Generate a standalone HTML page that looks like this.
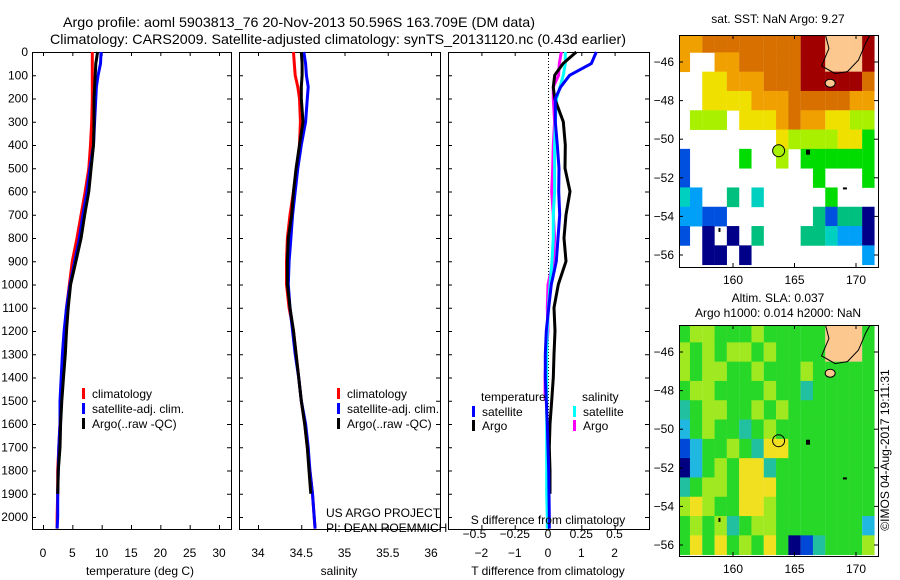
<!DOCTYPE html>
<html><head><meta charset="utf-8"><style>
html,body{margin:0;padding:0;background:#fff}
svg{display:block}
text{font-family:"Liberation Sans",sans-serif;fill:#000}
</style></head><body>
<svg id="c" width="900" height="580" viewBox="0 0 900 580" xmlns="http://www.w3.org/2000/svg">
<text x="63" y="27" font-size="14" textLength="472" lengthAdjust="spacingAndGlyphs">Argo profile: aoml 5903813_76 20-Nov-2013 50.596S 163.709E (DM data)</text>
<text x="50" y="44" font-size="14" textLength="576" lengthAdjust="spacingAndGlyphs">Climatology: CARS2009. Satellite-adjusted climatology: synTS_20131120.nc (0.43d earlier)</text>
<g id="g"></g>
</svg>
<script>
// ---------- data ----------
const depths = [0,50,100,150,200,300,400,500,600,700,800,900,1000,1100,1200,1300,1400,1500,1600,1700,1800,1900,2000,2050];
const tempClim = [8.4,8.4,8.4,8.4,8.4,8.3,8.1,7.8,7.2,6.5,5.8,5.0,4.5,4.0,3.7,3.4,3.2,3.0,2.9,2.7,2.5,2.5,2.4,2.4];
const tempSat  = [9.9,9.8,9.4,9.1,9.0,8.8,8.6,8.0,7.5,6.8,6.2,5.4,4.6,4.0,3.6,3.3,3.1,2.9,2.9,2.7,2.6,2.5,2.5,2.4];
const tempArgo = [9.3,9.0,8.9,8.8,8.7,8.7,8.6,8.2,7.8,7.1,6.5,5.6,4.7,4.3,4.0,3.8,3.5,3.2,3.0,2.9,2.6,2.5,null,null];
const salClim = [34.41,34.42,34.43,34.46,34.48,34.49,34.48,34.45,34.41,34.37,34.34,34.33,34.33,34.36,34.41,34.44,34.47,34.50,34.54,34.57,34.60,34.63,34.65,34.66];
const salSat  = [34.53,34.55,34.56,34.58,34.57,34.55,34.50,34.46,34.43,34.40,34.38,34.36,34.35,34.37,34.40,34.43,34.47,34.50,34.55,34.58,34.60,34.63,34.65,34.66];
const salArgo = [34.50,34.51,34.51,34.50,34.50,34.52,34.48,34.44,34.41,34.39,34.35,34.34,34.34,34.37,34.41,34.44,34.47,34.50,34.54,34.57,34.59,34.61,null,null];
const dTSat  = [1.45,1.3,0.65,0.38,0.22,0.22,0.28,0.33,0.32,0.35,0.3,0.25,0.1,0.02,-0.05,-0.08,-0.08,-0.05,-0.02,0,0.02,0.03,0.04,0.04];
const dTArgo = [0.85,0.45,0.2,0.16,0.2,0.46,0.52,0.51,0.66,0.54,0.48,0.54,0.31,0.18,0.21,0.18,0.16,0.11,0.06,0.04,0.06,0.06,null,null];
const dSSat  = [0.13,0.13,0.115,0.09,0.065,0.055,0.05,0.05,0.05,0.04,0.04,0.03,0.015,0.003,-0.005,-0.01,-0.01,-0.01,-0.01,-0.01,-0.01,-0.01,-0.005,-0.005];
const dSArgo = [0.1,0.085,0.08,0.04,0.04,0.05,0.04,0.035,0.028,0.04,0.05,0.04,0.0,-0.005,0.0,-0.015,-0.022,-0.022,null,null,null,null,null,null];
const depthTicks = [0,100,200,300,400,500,600,700,800,900,1000,1100,1200,1300,1400,1500,1600,1700,1800,1900,2000];
const tempTicks = [0,5,10,15,20,25,30];
const salTicks = [34,34.5,35,35.5,36];
const salTickLabels = ["34","34.5","35","35.5","36"];
const dTTicks = [-2,-1,0,1,2];
const dSTicks = [-0.5,-0.25,0,0.25,0.5];
const dSTickLabels = ["\u22120.5","\u22120.25","0","0.25","0.5"];
const latTicks = [-46,-48,-50,-52,-54,-56];
const lonTicks = [160,165,170];
const gridLats = [-45,-46,-47,-48,-49,-50,-51,-52,-53,-54,-55,-56];
const gridLons = [156,157,158,159,160,161,162,163,164,165,166,167,168,169,170,171];
const sstRows = [
"8899999999aaLLLa",
"8..8899999aaLLLa",
"..77888999aaaaa9",
"..77778889999988",
".666.77789887766",
"........76666775",
"1....5..6.555555",
"1..........5...5",
"32..4.3.....5...",
"2211.......41440",
"1.0.0.4...443220",
"..00.0.........2"];
const slaRows = [
"gyygggygggggLLLg",
"ygygyygyggggLLLg",
"ygyyggygggyggggg",
"gyyggggyggtggggg",
"tgyyggygyggggggg",
"cgyggtgygggggggg",
"bcggygtYYggggggg",
"dcgygYYtgggggggg",
"tgyygYYYgggggggg",
"yYyggYYygggggggg",
"gygytgyygggggggc",
"gYgYgygYgdbtgggy"];
const argoLon = 163.709, argoLat = -50.596;

// ---------- helpers ----------
const NS="http://www.w3.org/2000/svg";
const G=document.getElementById('g');
function mk(tag,attrs,parent){const e=document.createElementNS(NS,tag);for(const k in attrs)e.setAttribute(k,attrs[k]);(parent||G).appendChild(e);return e;}
function txt(x,y,s,size,anchor,parent){const t=mk('text',{x:x,y:y,'font-size':size||12,'text-anchor':anchor||'start'},parent);t.textContent=s;return t;}

const Y0=52, YPM=(517-52)/2000, YB=529;
const yD=d=>Y0+d*YPM;

function panel(name,x0,x1){
  const g=mk('g',{});
  
  
  const r=mk('rect',{x:x0+0.5,y:Y0+0.5,width:x1-x0,height:YB-Y0,fill:'none',stroke:'#000','stroke-width':1},g);
  
  
  depthTicks.forEach(d=>{
    mk('line',{x1:x0,x2:x0+4,y1:yD(d)+0.5,y2:yD(d)+0.5,stroke:'#000'},g);
    mk('line',{x1:x1-4,x2:x1,y1:yD(d)+0.5,y2:yD(d)+0.5,stroke:'#000'},g);
  });
  return g;
}
function line(g,xs,ys,f,color,name){
  let pts=[];
  for(let i=0;i<ys.length;i++){ if(xs[i]==null)continue; pts.push(f(xs[i]).toFixed(1)+','+yD(ys[i]).toFixed(1));}
  const p=mk('polyline',{points:pts.join(' '),fill:'none',stroke:color,'stroke-width':3,'stroke-linejoin':'round'},g);
  
  
}
function legendEntry(g,x,y,color,label,name){
  const e=mk('g',{},g);
  
  
  mk('rect',{x:x,y:y-10,width:3,height:11,fill:color},e);
  txt(x+10,y,label,12,'start',e);
}

depthTicks.forEach(d=>{const t=txt(28,yD(d)+4,String(d),12,'end');
  
  });

// ---------- panel 1 ----------
const p1=panel('temperature-panel',32,231);
const xT=t=>43+t*(219-43)/30;
tempTicks.forEach(t=>{mk('line',{x1:xT(t)+0.5,x2:xT(t)+0.5,y1:YB-4,y2:YB,stroke:'#000'},p1);mk('line',{x1:xT(t)+0.5,x2:xT(t)+0.5,y1:Y0,y2:Y0+4,stroke:'#000'},p1);txt(xT(t),557,String(t),12,'middle',p1);});
line(p1,tempClim,depths,xT,'#f00','temp-climatology-line');
line(p1,tempSat,depths,xT,'#00f','temp-satellite-line');
line(p1,tempArgo,depths,xT,'#000','temp-argo-line');
legendEntry(p1,82,398,'#f00','climatology','legend-climatology');
legendEntry(p1,82,413,'#00f','satellite-adj. clim.','legend-satellite');
legendEntry(p1,82,428,'#000','Argo(..raw -QC)','legend-argo');
txt(140,575,'temperature (deg C)',12,'middle',p1);

// ---------- panel 2 ----------
const p2=panel('salinity-panel',239,440);
const xS=s=>258+(s-34)*(431-258)/2;
salTicks.forEach((s,i)=>{mk('line',{x1:xS(s)+0.5,x2:xS(s)+0.5,y1:YB-4,y2:YB,stroke:'#000'},p2);mk('line',{x1:xS(s)+0.5,x2:xS(s)+0.5,y1:Y0,y2:Y0+4,stroke:'#000'},p2);txt(xS(s),557,salTickLabels[i],12,'middle',p2);});
line(p2,salClim,depths,xS,'#f00','sal-climatology-line');
line(p2,salSat,depths,xS,'#00f','sal-satellite-line');
line(p2,salArgo,depths,xS,'#000','sal-argo-line');
legendEntry(p2,337,398,'#f00','climatology','legend-climatology-2');
legendEntry(p2,337,413,'#00f','satellite-adj. clim.','legend-satellite-2');
legendEntry(p2,337,428,'#000','Argo(..raw -QC)','legend-argo-2');
txt(326,517,'US ARGO PROJECT',12,'start',p2);
txt(326,532,'PI: DEAN ROEMMICH',12,'start',p2);
txt(339,575,'salinity',12,'middle',p2);

// ---------- panel 3 ----------
const p3=panel('difference-panel',448,649);
const xDT=v=>548+v*33.3;
const xDS=v=>548+v*133;
mk('line',{x1:548.5,x2:548.5,y1:Y0,y2:YB,stroke:'#000','stroke-dasharray':'1,2'},p3);
dTTicks.forEach(t=>{mk('line',{x1:xDT(t)+0.5,x2:xDT(t)+0.5,y1:YB-4,y2:YB,stroke:'#000'},p3);mk('line',{x1:xDT(t)+0.5,x2:xDT(t)+0.5,y1:Y0,y2:Y0+4,stroke:'#000'},p3);txt(xDT(t),557,t<0?'\u2212'+(-t):String(t),12,'middle',p3);});
dSTicks.forEach((t,i)=>{txt(xDS(t)+(i==0?-7:0),538,dSTickLabels[i],12,'middle',p3);});
line(p3,dSArgo,depths,xDS,'#f0f','sal-diff-argo-line');
line(p3,dSSat,depths,xDS,'#0ff','sal-diff-satellite-line');
line(p3,dTArgo,depths,xDT,'#000','temp-diff-argo-line');
line(p3,dTSat,depths,xDT,'#00f','temp-diff-satellite-line');
txt(481,401,'temperature',12,'start',p3);
legendEntry(p3,472,416,'#00f','satellite','legend-temp-satellite');
legendEntry(p3,472,430,'#000','Argo','legend-temp-argo');
txt(582,401,'salinity',12,'start',p3);
legendEntry(p3,573,416,'#0ff','satellite','legend-sal-satellite');
legendEntry(p3,573,430,'#f0f','Argo','legend-sal-argo');
txt(548,524,'S difference from climatology',12,'middle',p3);
txt(548,575,'T difference from climatology',12,'middle',p3);

// ---------- maps ----------
const sstColors={'0':'#000088','1':'#0050e0','2':'#00a0f8','3':'#00d0c0','4':'#00c080','5':'#00dc00','6':'#a8f000','7':'#f0e000','8':'#f0a000','9':'#d87000','a':'#a00000','L':'#fcc890'};
const slaColors={'d':'#000080','b':'#0048d8','c':'#20b8e0','t':'#20c0a0','g':'#28d828','y':'#a0e820','Y':'#f0e020','L':'#fcc890'};
function map(name,top,bottom,latAt46,latAt56,rows,colors,withTitle){
  const g=mk('g',{});
  
  
  const L=679,R=878;
  const xL=lon=>733+(lon-160)*12.3;
  const yL=lat=>latAt46+(-46-lat)*(latAt56-latAt46)/10;
  const cid='clip'+name;
  const cp=mk('clipPath',{id:cid},g);mk('rect',{x:L,y:top,width:R-L,height:bottom-top},cp);
  const cells=mk('g',{'clip-path':'url(#'+cid+')'},g);
  rows.forEach((row,ri)=>{
    gridLons.forEach((lon,ci)=>{
      const ch=row[ci];
      if(!ch||!colors[ch])return;
      const r=mk('rect',{x:xL(lon-0.5),y:yL(gridLats[ri]+0.5),width:12.4,height:(latAt56-latAt46)/10+0.4,fill:colors[ch]},cells);
      
      
    });
  });
  const coast=mk('polyline',{points:[[167.4,-44.3],[167.8,-45.3],[167.2,-46.2],[168.3,-46.6],[169.3,-46.5],[170.2,-45.9],[170.8,-45.0],[171.5,-44.2]].map(p=>xL(p[0])+','+yL(p[1])).join(' '),fill:'none',stroke:'#000','stroke-width':1},cells);
  
  mk('ellipse',{cx:xL(167.9),cy:yL(-47.1),rx:5,ry:4,fill:'#fcc890',stroke:'#000'},cells);
  mk('rect',{x:xL(166.1)-2,y:yL(-50.7)-3,width:4,height:5,fill:'#000'},cells);
  mk('rect',{x:xL(169.1)-2,y:yL(-52.55)-1,width:4,height:2,fill:'#000'},cells);
  mk('rect',{x:xL(158.9)-1,y:yL(-54.7)-2,width:2,height:4,fill:'#000'},cells);
  const c=mk('circle',{cx:xL(argoLon),cy:yL(argoLat),r:6,fill:withTitle?'#a8f000':'none',stroke:'#000'},g);
  
  
  mk('rect',{x:L+0.5,y:top+0.5,width:R-L,height:bottom-top,fill:'none',stroke:'#000'},g);
  latTicks.forEach(lat=>{const y=yL(lat);mk('line',{x1:L,x2:L+4,y1:y,y2:y,stroke:'#000'},g);mk('line',{x1:R-4,x2:R,y1:y,y2:y,stroke:'#000'},g);txt(674,y+4,String(lat).replace('-','\u2212'),12,'end',g);});
  lonTicks.forEach(lon=>{const x=xL(lon);mk('line',{x1:x,x2:x,y1:bottom-4,y2:bottom,stroke:'#000'},g);mk('line',{x1:x,x2:x,y1:top,y2:top+4,stroke:'#000'},g);txt(x,bottom+17,String(lon),12,'middle',g);});
  return g;
}
const m1=map('sst-map',35,267,62,255,sstRows,sstColors,true);
txt(778,23,'sat. SST: NaN Argo: 9.27',12,'middle',m1);
const m2=map('sla-map',325,556,352,545,slaRows,slaColors,false);
txt(778,302,'Altim. SLA: 0.037',12,'middle',m2);
txt(778,317,'Argo h1000: 0.014 h2000: NaN',12,'middle',m2);
const cr=txt(0,0,'\u00a9IMOS 04-Aug-2017 19:11:31',12,'middle');
cr.setAttribute('transform','translate(889,450) rotate(-90)');


</script>
</body></html>
